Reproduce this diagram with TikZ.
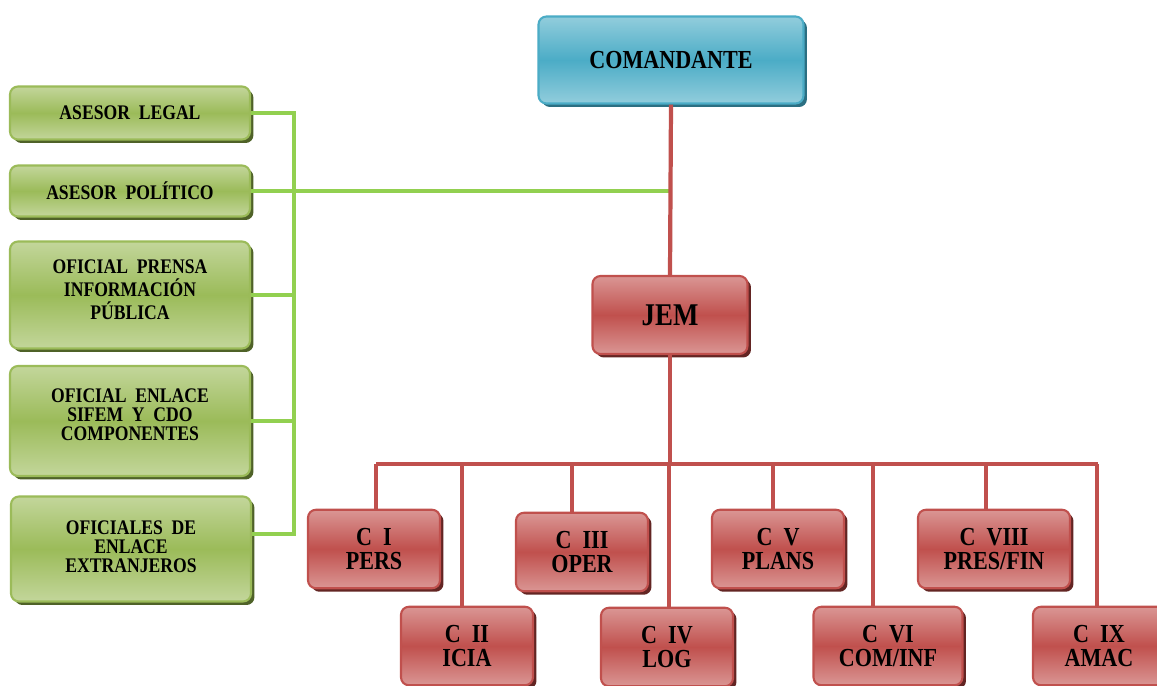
\documentclass[tikz,border=0pt]{standalone}
\usepackage{fontspec}
\setmainfont{Liberation Serif}[FakeStretch=0.85]
\usetikzlibrary{shadows}
\definecolor{azulclaro}{HTML}{92CDDC}
\definecolor{azul}{HTML}{4BACC6}
\definecolor{azulosc}{HTML}{2B6F82}
\definecolor{rojoclaro}{HTML}{DA9694}
\definecolor{rojo}{HTML}{C0504D}
\definecolor{rojoosc}{HTML}{632523}
\definecolor{verdeclaro}{HTML}{C3D69B}
\definecolor{verde}{HTML}{9BBB59}
\definecolor{verdeosc}{HTML}{4F6228}
\definecolor{lineaverde}{HTML}{92D050}
\tikzset{
	caja/.style={rounded corners=4.5pt, line width=1.2pt, inner sep=0pt, align=center},
	cajaazul/.style={caja, draw=azul, top color=azulclaro, bottom color=azulclaro, middle color=azul,
		drop shadow={shadow xshift=0.07cm, shadow yshift=-0.07cm, opacity=1, fill=azulosc}},
	cajaroja/.style={caja, draw=rojo, top color=rojoclaro, bottom color=rojoclaro, middle color=rojo,
		drop shadow={shadow xshift=0.07cm, shadow yshift=-0.07cm, opacity=1, fill=rojoosc}},
	cajaverde/.style={caja, draw=verde, top color=verdeclaro, bottom color=verdeclaro, middle color=verde,
		drop shadow={shadow xshift=0.07cm, shadow yshift=-0.07cm, opacity=1, fill=verdeosc},
		minimum width=4.8cm, font=\fontsize{11.8}{12.8}\selectfont\bfseries},
	linearoja/.style={draw=rojo, line width=2.4pt},
	lineaverdegruesa/.style={draw=lineaverde, line width=2.4pt}
}
\begin{document}
\begin{tikzpicture}[x=0.02cm,y=-0.02cm]
	\useasboundingbox (0,0) rectangle (1157,686);
	\fill[white] (0,0) rectangle (1157,686);
	\clip (0,0) rectangle (1157,686);

	\node[cajaazul, minimum width=5.3cm, minimum height=1.74cm,
		font=\fontsize{14.8}{16}\selectfont\bfseries] (comandante) at (671,60) {COMANDANTE};
	\node[cajaroja, minimum width=3.1cm, minimum height=1.56cm,
		font=\fontsize{18}{20}\selectfont\bfseries] (jem) at (670,315) {JEM};

	\node[cajaverde, minimum height=1.06cm] (asesorlegal) at (130,113) {ASESOR~ LEGAL};
	\node[cajaverde, minimum height=1.02cm] (asesorpolitico) at (130,191) {ASESOR~ POLÍTICO};
	\node[cajaverde, minimum height=2.14cm] (prensa) at (130,295)
		{\raisebox{6pt}{\shortstack{OFICIAL~ PRENSA\\INFORMACIÓN\\PÚBLICA}}};
	\node[cajaverde, minimum height=2.2cm] (enlace) at (130,421)
		{\raisebox{7pt}{\shortstack{OFICIAL~ ENLACE\\SIFEM~ Y~ CDO\\COMPONENTES}}};
	\node[cajaverde, minimum height=2.1cm] (extranjeros) at (131,549)
		{\raisebox{3pt}{\shortstack{OFICIALES~ DE\\ENLACE\\EXTRANJEROS}}};

	\coordinate (esq) at (294,534);
	\draw[lineaverdegruesa] (asesorlegal.east) -| (esq) -- (esq -| extranjeros.east);
	\draw[lineaverdegruesa] (prensa.east) -- (prensa.east -| esq);
	\draw[lineaverdegruesa] (enlace.east) -- (enlace.east -| esq);
	\draw[lineaverdegruesa] (asesorpolitico.east) -- (asesorpolitico.east -| comandante.south);

	\coordinate (bus) at (670,464);
	\draw[linearoja] (comandante.south) -- (jem.north);
	\draw[linearoja] (jem.south) -- (bus);
	\draw[linearoja] (376,464) -- (1098,464);

	\foreach \n/\cx/\cy/\w/\dx/\txt in {
			1/374/549/2.64/376/{C~~I\\PERS},
			2/467/646/2.64/462/{C~~II\\ICIA},
			3/582/552/2.64/572/{C~~III\\OPER},
			4/667/647/2.64/669/{C~~IV\\LOG},
			5/778/549/2.64/773/{C~~V\\PLANS},
			6/888/646/2.98/873/{C~~VI\\COM/INF},
			8/994/549/3.04/986/{C~~VIII\\PRES/FIN},
			9/1099/646/2.64/1097/{C~~IX\\AMAC}}{
		\node[cajaroja, minimum width=\w cm, minimum height=1.57cm,
			font=\fontsize{14.8}{14.2}\selectfont\bfseries] (c\n) at (\cx,\cy) {\txt};
		\coordinate (b\n) at (\dx,464);
		\draw[linearoja] (b\n) -- (b\n |- c\n.north);
	}
\end{tikzpicture}
\end{document}
